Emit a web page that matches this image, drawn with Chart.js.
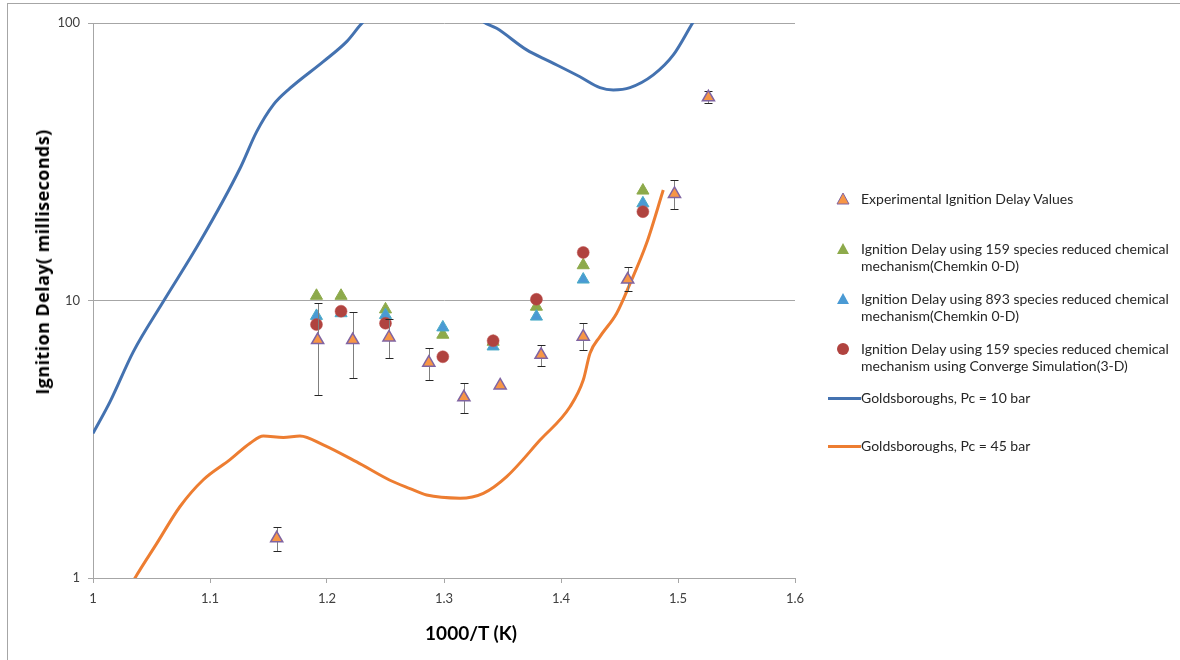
<!DOCTYPE html>
<html>
<head>
<meta charset="utf-8">
<script src="https://cdn.jsdelivr.net/npm/chart.js@4.4.1/dist/chart.umd.min.js"></script>
<style>
  body { margin: 0; background: #fff; }
  #wrap { position: relative; width: 1180px; height: 660px; overflow: hidden; font-family: Lato, "Open Sans", sans-serif; }
  #frame { position: absolute; left: 7px; top: 3px; width: 1200px; height: 700px; border-left: 1px solid #a6a6a6; border-top: 1px solid #a6a6a6; }
  canvas { position: absolute; left: 0; top: 0; }
  .ttl { position: absolute; font-weight: bold; color: #000; white-space: nowrap; }
  #ytitle { left: 42px; top: 262px; font-family: "Open Sans", sans-serif; font-size: 18px; letter-spacing: 0.4px; transform: translate(-50%, -50%) rotate(-90deg); }
  #xtitle { left: 471px; top: 632px; font-size: 19px; transform: translate(-50%, -50%); }
  .lg { position: absolute; left: 861px; font-size: 14px; line-height: 17px; color: #262626; white-space: nowrap; }
  .mk { position: absolute; }
</style>
</head>
<body>
<div id="wrap">
  <div id="frame"></div>
  <canvas id="chart" width="1180" height="660"></canvas>
  <div class="ttl" id="ytitle">Ignition Delay( milliseconds)</div>
  <div class="ttl" id="xtitle">1000/T (K)</div>

  <svg class="mk" style="left:836px;top:192px" width="14" height="14"><polygon points="7,1 13,12 1,12" fill="#F79646" stroke="#8064A2" stroke-width="1"/></svg>
  <div class="lg" style="top:190px">Experimental Ignition Delay Values</div>

  <svg class="mk" style="left:836px;top:242px" width="14" height="14"><polygon points="7,1 13,12 1,12" fill="#8DAA4B"/></svg>
  <div class="lg" style="top:240px">Ignition Delay using 159 species reduced chemical<br>mechanism(Chemkin 0-D)</div>

  <svg class="mk" style="left:836px;top:292px" width="14" height="14"><polygon points="7,1 13,12 1,12" fill="#4A9AD4"/></svg>
  <div class="lg" style="top:290px">Ignition Delay using 893 species reduced chemical<br>mechanism(Chemkin 0-D)</div>

  <svg class="mk" style="left:836px;top:342px" width="14" height="14"><circle cx="7" cy="7" r="6" fill="#B0433F"/></svg>
  <div class="lg" style="top:340px">Ignition Delay using 159 species reduced chemical<br>mechanism using Converge Simulation(3-D)</div>

  <div class="mk" style="left:828px;top:397px;width:33px;height:3px;background:#4472B0"></div>
  <div class="lg" style="top:389px">Goldsboroughs, Pc = 10 bar</div>

  <div class="mk" style="left:828px;top:445px;width:33px;height:3px;background:#ED7D31"></div>
  <div class="lg" style="top:437px">Goldsboroughs, Pc = 45 bar</div>
</div>

<script>
// experimental points (1000/T, ms) with error bar limits
const expX = [1.157, 1.192, 1.222, 1.253, 1.287, 1.317, 1.348, 1.383, 1.419, 1.457, 1.497, 1.526];
const expY = [1.39, 7.2, 7.2, 7.36, 5.97, 4.48, 4.94, 6.37, 7.41, 11.9, 24.2, 54];
const expHigh = [1.53, 9.8, 9.1, 8.55, 6.76, 5.03, null, 6.91, 8.28, 13.2, 27.2, 57];
const expLow = [1.25, 4.56, 5.26, 6.2, 5.15, 3.93, null, 5.83, 6.64, 10.8, 21.4, 51.5];

// model results
const modelX = [1.191, 1.212, 1.250, 1.299, 1.342, 1.379, 1.419, 1.470];
const chem159 = [10.4, 10.4, 9.29, 7.53, 7.1, 9.5, 13.4, 24.9];
const chem893 = [8.8, 9.0, 8.87, 8.0, 6.83, 8.75, 11.9, 22.4];
const conv159 = [8.19, 9.15, 8.28, 6.27, 7.16, 10.1, 14.9, 20.9];

// Goldsborough curves
const gold10X = [1.000, 1.0145, 1.0344, 1.0601, 1.0915, 1.1256, 1.1399, 1.1541, 1.1684, 1.1968, 1.2168, 1.2310, 1.26, 1.29, 1.315, 1.3336, 1.3450, 1.3707, 1.3906, 1.4162, 1.4333, 1.4447, 1.4590, 1.4789, 1.4960, 1.5131, 1.53];
const gold10Y = [3.32, 4.31, 6.53, 9.91, 16.3, 29.9, 40.6, 50.7, 58.2, 72.6, 85.7, 101, 125, 135, 120, 101, 95.7, 80, 72.6, 64.0, 58.5, 57.4, 58.5, 65.0, 76.7, 101, 130];
const gold45X = [1.03, 1.0359, 1.0544, 1.0744, 1.0943, 1.1171, 1.1342, 1.1456, 1.1627, 1.1769, 1.1968, 1.2254, 1.2538, 1.2709, 1.2852, 1.3137, 1.3336, 1.3536, 1.3821, 1.4077, 1.4191, 1.4248, 1.4333, 1.4476, 1.4590, 1.4732, 1.4874];
const gold45Y = [0.9, 1.0, 1.33, 1.81, 2.26, 2.67, 3.06, 3.25, 3.21, 3.25, 3.02, 2.62, 2.25, 2.10, 1.99, 1.94, 2.02, 2.32, 3.14, 4.14, 5.18, 6.46, 7.41, 9.0, 11.5, 16.1, 25.0];

const yTicks = [1, 10, 100];

const pts = (xs, ys) => xs.map((x, i) => ({ x: x, y: ys[i] }));

// draws the error bars just under the experimental markers
const errorBars = {
    id: 'errorBars',
    beforeDatasetDraw(chart, args) {
        if (args.index !== 0) return;
        const ctx = chart.ctx;
        const xs = chart.scales.x, ys = chart.scales.y;
        ctx.save();
        ctx.lineWidth = 1;
        expX.forEach((v, i) => {
            if (expHigh[i] == null) return;
            const px = Math.round(xs.getPixelForValue(v)) + 0.5;
            const top = Math.round(ys.getPixelForValue(expHigh[i])) + 0.5;
            const bot = Math.round(ys.getPixelForValue(expLow[i])) + 0.5;
            ctx.strokeStyle = '#7f7f7f';
            ctx.beginPath();
            ctx.moveTo(px, top);
            ctx.lineTo(px, bot);
            ctx.stroke();
            ctx.strokeStyle = '#262626';
            ctx.beginPath();
            ctx.moveTo(px - 4, top); ctx.lineTo(px + 4, top);
            ctx.moveTo(px - 4, bot); ctx.lineTo(px + 4, bot);
            ctx.stroke();
        });
        ctx.restore();
    }
};

new Chart(document.getElementById('chart').getContext('2d'), {
    type: 'scatter',
    data: {
        datasets: [
            {
                label: 'Experimental Ignition Delay Values',
                data: pts(expX, expY),
                pointStyle: 'triangle',
                pointRadius: 7,
                backgroundColor: '#F79646',
                borderColor: '#8064A2',
                borderWidth: 1.5
            },
            {
                label: 'Ignition Delay using 159 species reduced chemical mechanism using Converge Simulation(3-D)',
                data: pts(modelX, conv159),
                pointStyle: 'circle',
                pointRadius: 6,
                backgroundColor: '#B0433F',
                borderColor: 'rgba(192,80,77,0.5)',
                borderWidth: 1
            },
            {
                label: 'Ignition Delay using 893 species reduced chemical mechanism(Chemkin 0-D)',
                data: pts(modelX, chem893),
                pointStyle: 'triangle',
                pointRadius: 7,
                backgroundColor: '#4A9AD4',
                borderColor: '#4BACC6',
                borderWidth: 1
            },
            {
                label: 'Ignition Delay using 159 species reduced chemical mechanism(Chemkin 0-D)',
                data: pts(modelX, chem159),
                pointStyle: 'triangle',
                pointRadius: 7,
                backgroundColor: '#8DAA4B',
                borderColor: '#8DAA4B',
                borderWidth: 1
            },
            {
                label: 'Goldsboroughs, Pc = 10 bar',
                type: 'line',
                data: pts(gold10X, gold10Y),
                borderColor: '#4472B0',
                borderWidth: 3,
                pointRadius: 0,
                cubicInterpolationMode: 'monotone',
                fill: false
            },
            {
                label: 'Goldsboroughs, Pc = 45 bar',
                type: 'line',
                data: pts(gold45X, gold45Y),
                borderColor: '#ED7D31',
                borderWidth: 3,
                pointRadius: 0,
                cubicInterpolationMode: 'monotone',
                fill: false
            }
        ]
    },
    options: {
        responsive: false,
        animation: false,
        devicePixelRatio: 1,
        layout: { padding: { left: 0, top: 23, right: 385, bottom: 0 } },
        plugins: {
            legend: { display: false },
            tooltip: { enabled: false }
        },
        scales: {
            x: {
                type: 'linear',
                min: 1,
                max: 1.6,
                afterFit: s => { s.height = 82; },
                ticks: {
                    stepSize: 0.1,
                    padding: 8,
                    color: '#404040',
                    font: { family: 'Lato', size: 13 },
                    callback: v => String(Number(v.toFixed(1)))
                },
                grid: { drawOnChartArea: false, drawTicks: true, tickLength: 5, color: '#a6a6a6' },
                border: { display: true, color: '#a6a6a6' }
            },
            y: {
                type: 'logarithmic',
                min: 1,
                max: 100,
                afterFit: s => { s.width = 93; },
                afterBuildTicks: s => { s.ticks = yTicks.map(v => ({ value: v })); },
                ticks: {
                    padding: 8,
                    color: '#404040',
                    font: { family: 'Lato', size: 13 },
                    callback: v => String(v)
                },
                grid: { color: '#a6a6a6', tickLength: 5 },
                border: { display: true, color: '#a6a6a6' }
            }
        }
    },
    plugins: [errorBars]
});
</script>
</body>
</html>
